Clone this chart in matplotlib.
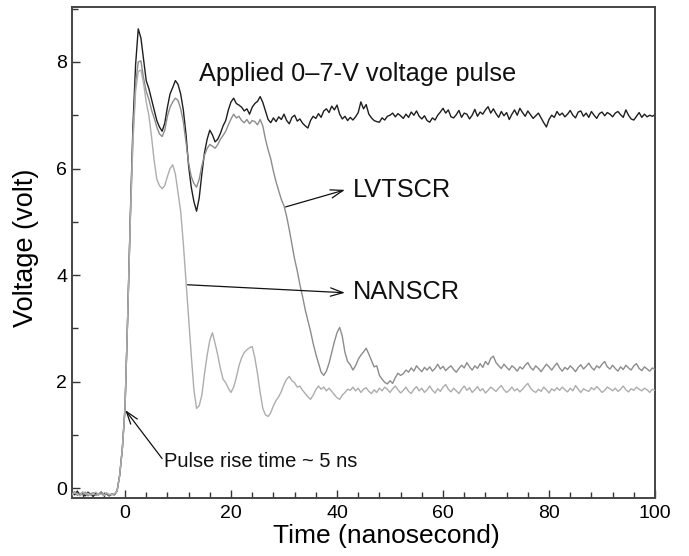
import numpy as np
import matplotlib
matplotlib.use("Agg")
import matplotlib.pyplot as plt
from matplotlib.ticker import MultipleLocator

plt.rcParams['font.family'] = ['Liberation Sans', 'DejaVu Sans']

# sample times (ns), 0.5 ns step
time_ns = np.arange(-10, 100.25, 0.5)

applied = [
    -0.08, -0.12, -0.05, -0.13, -0.09, -0.14, -0.07, -0.11, -0.15, -0.09,
    -0.12, -0.08, -0.13, -0.10, -0.14, -0.11, -0.12,
    -0.05, 0.25, 0.75,
    1.5, 3.2, 5.1, 6.8, 7.95, 8.62, 8.45, 8.05, 7.65, 7.5,
    7.3, 7.1, 6.9, 6.78, 6.7, 6.85, 7.15, 7.4, 7.52, 7.65,
    7.58, 7.4, 7.1, 6.65, 6.05, 5.65, 5.38, 5.2, 5.45, 5.9,
    6.3, 6.55, 6.72, 6.63, 6.5, 6.55, 6.66, 6.8, 6.9, 7.1,
    7.25, 7.32, 7.22, 7.19, 7.15, 7.08, 7.12, 7.02, 7.15, 7.22,
    7.26, 7.35, 7.24, 7.08, 6.92, 6.86,
    6.95, 6.88, 6.97, 6.92, 7.02, 6.9, 6.84, 6.96, 7.0, 6.89,
    6.93, 6.85, 6.8, 6.76, 6.9, 6.98, 6.94, 7.03, 6.96, 7.08,
    7.12, 7.05, 7.17, 7.1, 7.19, 7.02, 6.93, 6.98, 6.9, 6.96,
    6.91, 6.97, 7.05, 7.25, 7.12, 7.2, 7.02, 6.95, 6.9, 6.88,
    6.87, 6.95, 6.91, 6.98, 7.0, 7.04, 6.97, 7.03, 6.99, 6.94,
    7.02, 6.96, 7.06, 7.0, 7.08, 6.98, 6.93, 6.99, 6.9, 6.87,
    6.95, 6.91, 7.0, 7.06, 7.13, 7.04, 7.1, 6.97, 6.95, 7.01,
    7.09, 6.96, 7.04, 7.02, 6.93, 7.0, 7.11, 6.98, 7.06, 7.02,
    7.1, 7.16, 7.04, 7.12, 7.03, 6.96, 7.07, 6.99, 7.05, 6.92,
    7.02, 7.1, 7.0, 7.13, 7.05, 6.98, 7.08, 7.01, 6.94, 6.99,
    7.04, 6.95, 6.86, 6.78, 6.92, 7.0, 6.96, 7.07, 7.0, 7.04,
    6.97, 7.02, 7.09, 7.0, 6.95, 7.06, 7.08, 6.98, 7.04, 6.96,
    7.07, 7.0, 6.94, 7.03, 7.06, 6.99, 7.05, 7.02, 6.97, 7.04,
    7.07, 7.01, 6.96, 7.1, 7.0, 6.93, 6.91, 6.98, 7.05, 6.96,
    7.02, 6.97, 7.0, 6.98, 7.01,
]

lvtscr = [
    -0.10, -0.06, -0.13, -0.09, -0.12, -0.07, -0.14, -0.10, -0.08, -0.13,
    -0.11, -0.06, -0.12, -0.09, -0.13, -0.10, -0.11,
    -0.05, 0.25, 0.75,
    1.5, 3.2, 5.05, 6.6, 7.6, 8.0, 8.02, 7.7, 7.45, 7.3,
    7.1, 6.95, 6.78, 6.65, 6.6, 6.72, 6.98, 7.15, 7.25, 7.32,
    7.28, 7.12, 6.88, 6.5, 6.1, 5.85, 5.72, 5.65, 5.8, 6.05,
    6.25, 6.38, 6.45, 6.42, 6.38, 6.45, 6.55, 6.62, 6.7, 6.82,
    6.93, 7.02, 6.95, 6.98, 6.9, 6.86, 6.92, 6.84, 6.9, 6.88,
    6.82, 6.92, 6.8, 6.55, 6.35, 6.18,
    5.95, 5.75, 5.58, 5.42, 5.3, 5.1, 4.85, 4.58, 4.3, 4.08,
    3.82, 3.6, 3.35, 3.15, 2.95, 2.72, 2.52, 2.35, 2.18, 2.12,
    2.2, 2.35, 2.55, 2.75, 2.92, 3.02, 2.85, 2.55, 2.38, 2.32,
    2.22, 2.3, 2.42, 2.5, 2.56, 2.63, 2.52, 2.4, 2.28, 2.3,
    2.12, 2.05, 1.99, 1.96, 2.02, 1.97, 2.08, 2.16, 2.12,
    2.15, 2.22, 2.18, 2.26, 2.2, 2.3, 2.24, 2.19, 2.27, 2.22,
    2.28, 2.2, 2.25, 2.33, 2.24, 2.29, 2.21, 2.26, 2.3, 2.23,
    2.18, 2.25, 2.31, 2.26, 2.36, 2.28, 2.22, 2.3, 2.25, 2.34,
    2.27, 2.38, 2.32, 2.44, 2.48, 2.36, 2.3, 2.25, 2.33, 2.27,
    2.22, 2.3, 2.26, 2.2, 2.28, 2.24, 2.31, 2.36, 2.27, 2.22,
    2.3, 2.25, 2.19, 2.26, 2.33, 2.28, 2.22, 2.29, 2.35, 2.26,
    2.2, 2.27, 2.23, 2.3, 2.25, 2.19, 2.27, 2.32, 2.24, 2.29,
    2.35, 2.27, 2.22, 2.3, 2.26, 2.33, 2.38, 2.28, 2.24, 2.31,
    2.25, 2.2, 2.28, 2.23, 2.31, 2.26, 2.22, 2.3, 2.34, 2.25,
    2.21, 2.28, 2.24, 2.2, 2.26, 2.23,
]

nanscr = [
    -0.12, -0.08, -0.10, -0.14, -0.06, -0.11, -0.09, -0.13, -0.10, -0.07,
    -0.12, -0.10, -0.14, -0.08, -0.11, -0.12, -0.10,
    -0.05, 0.25, 0.75,
    1.5, 3.2, 5.0, 6.5, 7.45, 7.82, 7.85, 7.6, 7.25, 7.0,
    6.6, 6.15, 5.8, 5.68, 5.62, 5.68, 5.85, 6.0, 6.07, 5.9,
    5.55, 5.2, 4.6, 3.9, 3.2, 2.5, 1.85, 1.5, 1.55, 1.75,
    2.15, 2.5, 2.78, 2.92, 2.72, 2.5, 2.25, 2.05, 1.98, 1.88,
    1.8, 1.9, 2.08, 2.3, 2.45, 2.55, 2.6, 2.64, 2.66, 2.45,
    2.15, 1.8, 1.5, 1.38, 1.35, 1.42,
    1.55, 1.65, 1.72, 1.82, 1.95, 2.05, 2.1, 2.02, 1.98, 1.9,
    1.92, 1.84, 1.78, 1.72, 1.67, 1.75, 1.85, 1.92, 1.86, 1.9,
    1.83, 1.88, 1.82, 1.76, 1.7, 1.67, 1.75, 1.8, 1.86, 1.84,
    1.9, 1.83, 1.88, 1.8, 1.86, 1.89, 1.82, 1.78, 1.85, 1.8,
    1.88, 1.83, 1.9, 1.86, 1.8, 1.87, 1.92, 1.85, 1.79,
    1.84, 1.9, 1.82, 1.78, 1.86, 1.91, 1.83, 1.88, 1.8, 1.85,
    1.92, 1.84, 1.79, 1.87, 1.82, 1.9, 1.95, 1.86, 1.81, 1.88,
    1.83, 1.78, 1.86, 1.92, 1.84, 1.89, 1.8, 1.85, 1.91, 1.83,
    1.87, 1.79, 1.84, 1.9, 1.86, 1.82, 1.88, 1.93, 1.85, 1.8,
    1.84, 1.9, 1.83, 1.87, 1.81, 1.86, 1.92, 1.97, 1.88, 1.83,
    1.8, 1.86, 1.82, 1.9, 1.85, 1.79, 1.87, 1.83, 1.89, 1.84,
    1.9, 1.85, 1.81, 1.88, 1.83, 1.93, 1.86, 1.8, 1.87, 1.84,
    1.82, 1.89, 1.85, 1.91, 1.86, 1.8, 1.84, 1.9, 1.87, 1.83,
    1.88, 1.82, 1.86, 1.92, 1.85, 1.81, 1.87, 1.84, 1.9, 1.86,
    1.83, 1.88, 1.85, 1.8, 1.86, 1.84,
]

fig = plt.figure(figsize=(6.89, 5.56), dpi=100)
ax = fig.add_axes([0.1045, 0.1043, 0.8462, 0.8831])

ax.plot(time_ns, applied, color='#1e1e1e', lw=1.0, zorder=2)
ax.plot(time_ns, lvtscr, color='#8c8c8c', lw=1.0, zorder=3)
ax.plot(time_ns, nanscr, color='#adadad', lw=1.0, zorder=4)

ax.set_xlim(-10, 100)
ax.set_ylim(-0.18, 9.03)
ax.xaxis.set_major_locator(MultipleLocator(20))
ax.xaxis.set_minor_locator(MultipleLocator(4))
ax.yaxis.set_major_locator(MultipleLocator(2))
ax.yaxis.set_minor_locator(MultipleLocator(1))
ax.tick_params(which='both', direction='in', color='#333333', labelsize=14, width=1)
ax.tick_params(which='major', length=6)
ax.tick_params(which='minor', length=4)
ax.tick_params(axis='x', pad=5)
for sp in ax.spines.values():
    sp.set_color('#444444')
    sp.set_linewidth(1.4)

ax.set_xlabel('Time (nanosecond)', fontsize=19)
ax.set_ylabel('Voltage (volt)', fontsize=19.5)
ax.xaxis.set_label_coords(0.54, -0.052)
ax.yaxis.set_label_coords(-0.057, 0.51)

txt = dict(fontsize=18.3, color='#111111', va='center', ha='left')
ax.text(13.9, 7.77, 'Applied 0\u20137-V voltage pulse', **txt)
ax.text(42.9, 5.6, 'LVTSCR', **txt)
ax.text(42.9, 3.69, 'NANSCR', **txt)
ax.text(7.3, 0.5, 'Pulse rise time ~ 5 ns', fontsize=14.5, color='#111111', va='center', ha='left')

arrow = dict(arrowstyle='->,head_length=0.9,head_width=0.3', color='#111111', lw=0.9,
             shrinkA=0, shrinkB=0)
ax.annotate('', xy=(41.5, 5.6), xytext=(30.3, 5.28), arrowprops=arrow)
ax.annotate('', xy=(41.5, 3.67), xytext=(11.8, 3.82), arrowprops=arrow)
ax.annotate('', xy=(0.05, 1.47), xytext=(7.0, 0.56), arrowprops=arrow)

fig.savefig('out.png', dpi=100)
